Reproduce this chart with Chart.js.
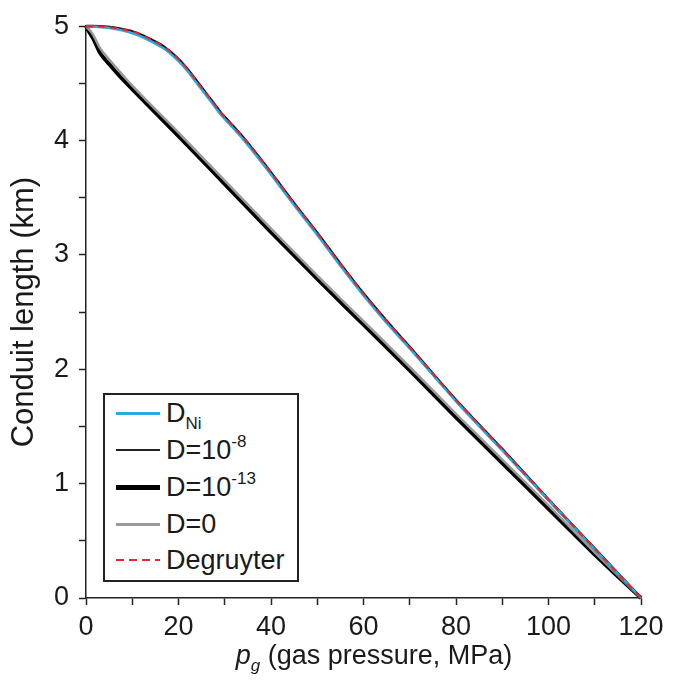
<!DOCTYPE html>
<html>
<head>
  <title>Conduit length vs gas pressure</title>
  <script src="https://cdn.jsdelivr.net/npm/chart.js"></script>
  <style>
    body { margin: 0; background: #fff; font-family: "Liberation Sans", Arial, sans-serif; color: #1a1a1a; }
    #wrap { position: relative; width: 675px; height: 684px; }
    #legend { position: absolute; left: 103px; top: 393px; width: 192px; height: 185px; border: 2px solid #222; background: #fff; }
    .row { position: absolute; left: 11px; height: 36px; display: flex; align-items: center; font-size: 27px; white-space: nowrap; }
    .sw { width: 44px; margin-right: 6px; }
    sub, sup { font-size: 17px; line-height: 0; }
    sub { vertical-align: -7px; }
    sup { vertical-align: 12px; }
    #xtitle { position: absolute; left: 374px; top: 640px; transform: translateX(-50%); font-size: 27px; white-space: nowrap; }
  </style>
</head>
<body>
<div id="wrap">
  <canvas id="chart" width="675" height="684"></canvas>

  <div id="legend">
    <div class="row" style="top:0px"><span class="sw" style="border-top:3px solid #29aae1"></span><span>D<sub>Ni</sub></span></div>
    <div class="row" style="top:37px"><span class="sw" style="border-top:2px solid #222"></span><span>D=10<sup>-8</sup></span></div>
    <div class="row" style="top:74px"><span class="sw" style="border-top:5px solid #000"></span><span>D=10<sup>-13</sup></span></div>
    <div class="row" style="top:111px"><span class="sw" style="border-top:3px solid #9a9a9a"></span><span>D=0</span></div>
    <div class="row" style="top:147px"><span class="sw" style="height:2px;background:repeating-linear-gradient(90deg,#e8262d 0 8px,transparent 8px 13px)"></span><span>Degruyter</span></div>
  </div>

  <div id="xtitle"><i>p<sub>g</sub></i> (gas pressure, MPa)</div>
</div>

<script>
  // upper group: D_Ni, D=1e-8, Degruyter
  const upperP     = [0, 4, 8, 11, 14.4, 17, 19.5, 21.7, 23.8, 25.6, 27.4, 29.2, 31, 33.9, 36.7, 39.6, 42, 44.8, 50, 55, 60, 65, 70.7, 80, 90, 100, 110, 120];
  const degruyterL = [5, 4.995, 4.972, 4.94, 4.875, 4.815, 4.73, 4.635, 4.525, 4.43, 4.335, 4.24, 4.16, 4.03, 3.89, 3.74, 3.61, 3.46, 3.19, 2.92, 2.66, 2.42, 2.16, 1.73, 1.30, 0.86, 0.43, 0];
  const d8L        = [5, 4.995, 4.972, 4.94, 4.875, 4.815, 4.73, 4.635, 4.525, 4.43, 4.335, 4.24, 4.16, 4.03, 3.89, 3.74, 3.61, 3.46, 3.19, 2.92, 2.66, 2.42, 2.16, 1.73, 1.30, 0.86, 0.43, 0];
  const dNiL       = [5, 4.99, 4.962, 4.925, 4.86, 4.80, 4.715, 4.62, 4.51, 4.415, 4.32, 4.225, 4.145, 4.015, 3.875, 3.725, 3.595, 3.445, 3.175, 2.905, 2.645, 2.405, 2.15, 1.72, 1.29, 0.855, 0.425, 0];

  // lower group: D=1e-13, D=0
  const lowerP = [0, 1, 1.6, 3, 5.2, 7.35, 10, 20, 30, 40, 50, 60, 70, 80, 90, 100, 110, 120];
  const d13L   = [5, 4.93, 4.89, 4.77, 4.66, 4.56, 4.45, 4.04, 3.62, 3.20, 2.79, 2.39, 1.99, 1.58, 1.18, 0.78, 0.38, 0];
  const d0L    = [5, 4.955, 4.92, 4.81, 4.70, 4.60, 4.48, 4.07, 3.65, 3.23, 2.82, 2.42, 2.02, 1.61, 1.21, 0.81, 0.40, 0];

  const xTicks = [0, 20, 40, 60, 80, 100, 120];
  const yTicks = [0, 1, 2, 3, 4, 5];

  function pts(xs, ys) {
    return xs.map((x, i) => ({ x: x, y: ys[i] }));
  }

  function line(label, xs, ys, color, width, order, dash) {
    return {
      label: label,
      data: pts(xs, ys),
      borderColor: color,
      borderWidth: width,
      borderDash: dash || [],
      showLine: true,
      pointRadius: 0,
      cubicInterpolationMode: 'monotone',
      fill: false,
      clip: false,
      order: order
    };
  }

  const axisColor = '#222';
  const font = '"Liberation Sans", Arial, sans-serif';

  new Chart(document.getElementById('chart'), {
    type: 'scatter',
    data: {
      datasets: [
        line('Degruyter', upperP, degruyterL, '#e8262d', 2, 0, [7, 5]),
        line('D_Ni', upperP, dNiL, '#29aae1', 2.5, 1),
        line('D=10^-8', upperP, d8L, '#111', 3, 2),
        line('D=0', lowerP, d0L, '#9a9a9a', 2.5, 3),
        line('D=10^-13', lowerP, d13L, '#000', 4, 4)
      ]
    },
    options: {
      responsive: false,
      animation: false,
      devicePixelRatio: 1,
      layout: { padding: { top: 24, right: 34, left: 0, bottom: 0 } },
      plugins: { legend: { display: false }, tooltip: { enabled: false } },
      scales: {
        x: {
          type: 'linear', min: 0, max: 120,
          afterFit: s => { s.height = 86; },
          border: { display: true, color: axisColor, width: 1.5 },
          grid: { drawOnChartArea: false, drawTicks: true, tickLength: 7, tickColor: axisColor, tickWidth: 1.5 },
          ticks: {
            stepSize: 10, padding: 6, color: '#1a1a1a', maxRotation: 0, autoSkip: false,
            font: { family: font, size: 27 },
            callback: v => xTicks.includes(v) ? String(v) : ''
          }
        },
        y: {
          type: 'linear', min: 0, max: 5,
          afterFit: s => { s.width = 86; },
          border: { display: true, color: axisColor, width: 1.5 },
          grid: { drawOnChartArea: false, drawTicks: true, tickLength: 7, tickColor: axisColor, tickWidth: 1.5 },
          title: {
            display: true, text: 'Conduit length (km)', color: '#1a1a1a',
            font: { family: font, size: 31 }, padding: { top: 6, bottom: 0 }
          },
          ticks: {
            stepSize: 0.5, padding: 10, color: '#1a1a1a', autoSkip: false,
            font: { family: font, size: 27 },
            callback: v => yTicks.includes(v) ? String(v) : ''
          }
        }
      }
    }
  });
</script>
</body>
</html>
